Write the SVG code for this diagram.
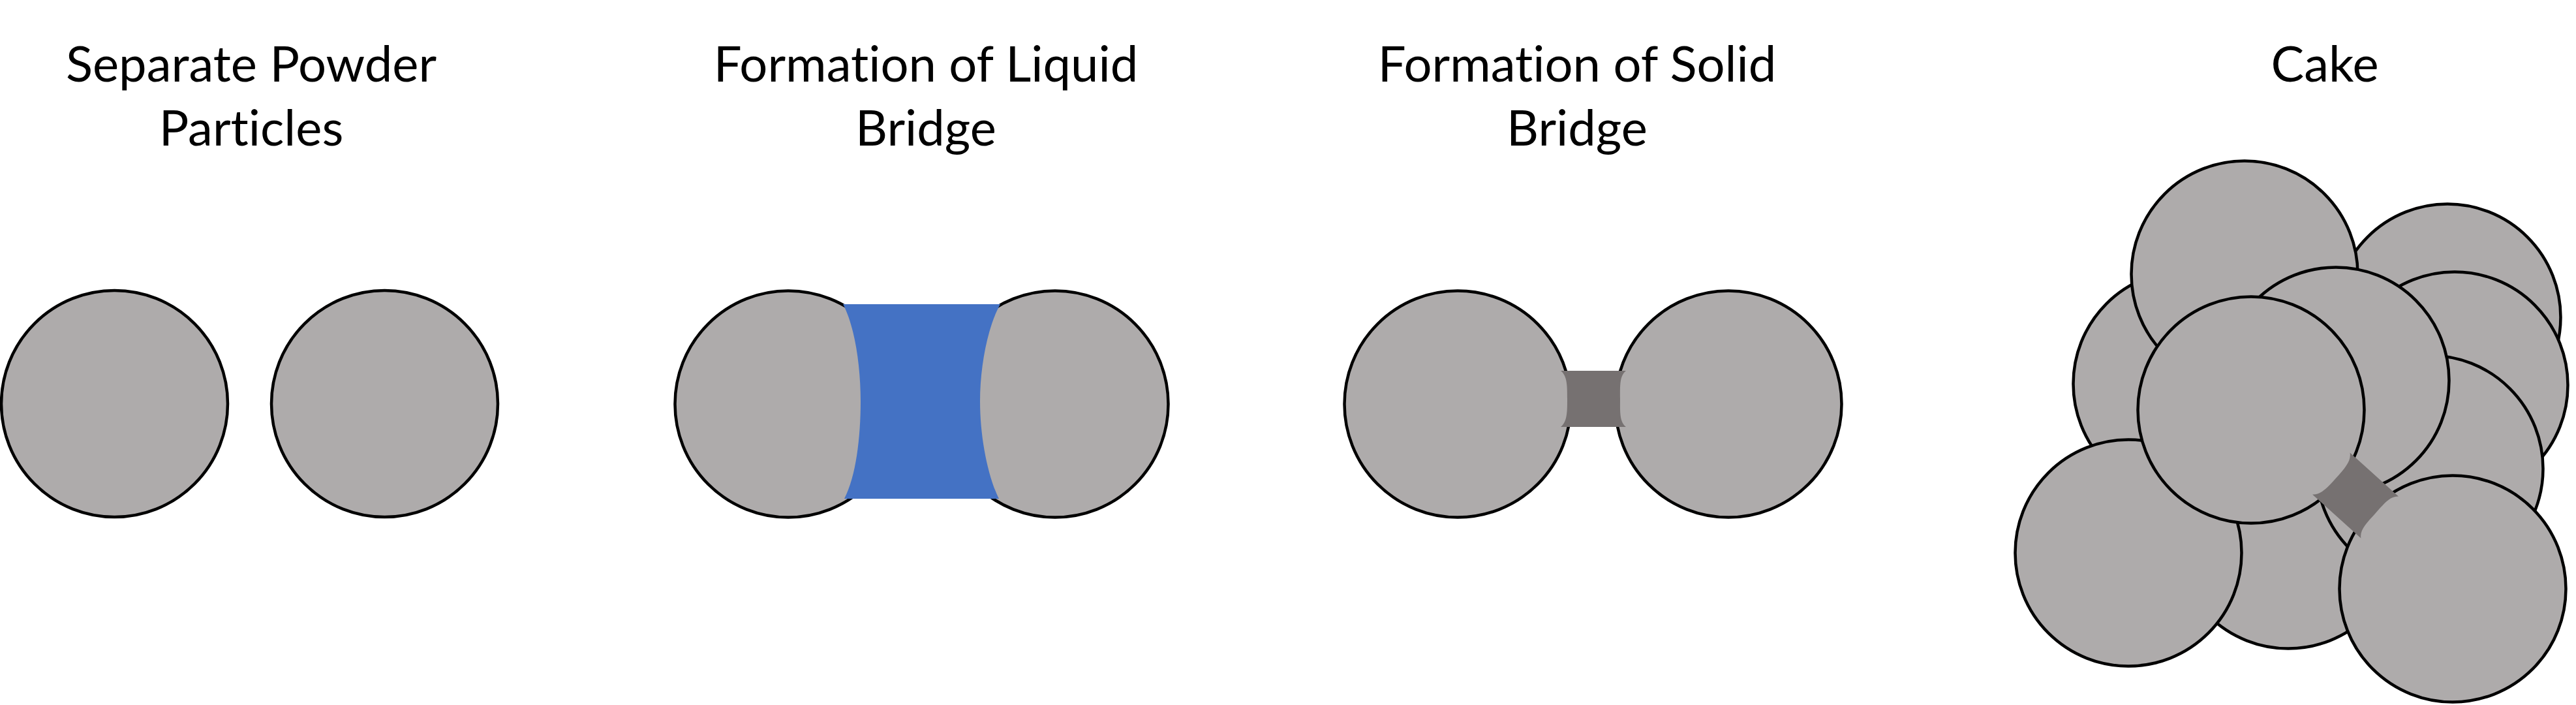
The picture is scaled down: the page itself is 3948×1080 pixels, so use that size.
<svg xmlns="http://www.w3.org/2000/svg" width="3948" height="1080" viewBox="0 0 3948 1080">
<style>
.p{fill:#AEABAB;stroke:#000;stroke-width:4.5}
.t{font-family:Lato,"Liberation Sans",sans-serif;font-size:76px;fill:#000;text-anchor:middle;font-variant-ligatures:none;font-feature-settings:"liga" 0,"clig" 0}
.liq{fill:#4472C4}
.sol{fill:#767171}
</style>
<defs>
<path id="sb" d="M-50,-43 L50,-43 C40,-35 41,-20 41,0 C41,20 40,35 50,43 L-50,43 C-40,35 -40,20 -40,0 C-40,-20 -40,-35 -50,-43 Z"/>
</defs>
<rect width="3948" height="1080" fill="#fff"/>
<g id="labels">
<text class="t" x="385" y="125">Separate Powder</text>
<text class="t" x="385" y="223">Particles</text>
<text class="t" x="1419" y="125">Formation of Liquid</text>
<text class="t" x="1419" y="223">Bridge</text>
<text class="t" x="2417" y="125">Formation of Solid</text>
<text class="t" x="2417" y="223">Bridge</text>
<text class="t" x="3563" y="125">Cake</text>
</g>
<g id="separate">
<circle id="sep-1" class="p" cx="175.5" cy="618.5" r="173.5"/>
<circle id="sep-2" class="p" cx="589.5" cy="618.5" r="173.5"/>
</g>
<g id="liquid">
<circle id="liq-1" class="p" cx="1208" cy="619" r="173.5"/>
<circle id="liq-2" class="p" cx="1617" cy="619" r="173.5"/>
</g>
<g id="solid">
<circle id="sol-1" class="p" cx="2234" cy="619" r="173.5"/>
<circle id="sol-2" class="p" cx="2649" cy="619" r="173.5"/>
</g>
<g id="cake">
<circle id="cake-e" class="p" cx="3751" cy="486" r="173.5"/>
<circle id="cake-b" class="p" cx="3351" cy="588" r="173.5"/>
<circle id="cake-i" class="p" cx="3507" cy="820" r="173.5"/>
<circle id="cake-f" class="p" cx="3762" cy="590" r="173.5"/>
<circle id="cake-g" class="p" cx="3724" cy="718" r="173.5"/>
<circle id="cake-j" class="p" cx="3262" cy="847" r="173.5"/>
<circle id="cake-a" class="p" cx="3440" cy="420" r="173.5"/>
<circle id="cake-d" class="p" cx="3580" cy="583" r="173.5"/>
<circle id="cake-c" class="p" cx="3450" cy="628" r="173.5"/>
<circle id="cake-h" class="p" cx="3759" cy="902" r="173.5"/>
</g>
<g id="connectors">
<path id="liquid-bridge" class="liq" d="M1292,466 L1533,466 C1514,500 1502,560 1502,615 C1502,670 1514,730 1531,764 L1294,764 C1312,730 1319,670 1319,615 C1319,560 1310,500 1292,466 Z"/>
<use id="solid-bridge" href="#sb" class="sol" transform="translate(2442,611)"/>
<use id="cake-bridge" href="#sb" class="sol" transform="translate(3610,759) rotate(42)"/>
</g>
</svg>
